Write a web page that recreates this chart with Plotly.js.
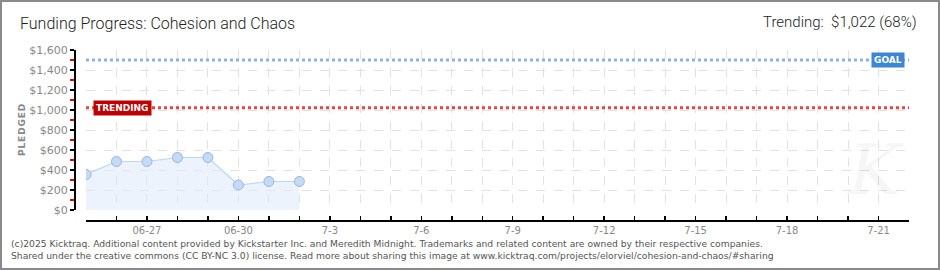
<!DOCTYPE html>
<html>
<head>
<meta charset="utf-8">
<script src="https://cdn.plot.ly/plotly-3.0.1.min.js"></script>
<style>
  body { margin: 0; padding: 0; background: #fff; }
  #wrap { position: relative; width: 940px; height: 270px; }
  #chart { width: 940px; height: 270px; }
  #frame { position: absolute; left: 0; top: 0; width: 936px; height: 266px; border: 2px solid #8a8a8a; pointer-events: none; }
</style>
</head>
<body>
<div id="wrap"><div id="chart"></div><div id="frame"></div></div>
<script>
// ---- data ----
const dates = ["2025-06-25","2025-06-26","2025-06-27","2025-06-28","2025-06-29","2025-06-30","2025-07-01","2025-07-02"];
const pledged = [355, 485, 485, 525, 525, 250, 285, 285];
const goal = 1500;
const trending = 1022;
const trendingPct = 68;
const axisStart = "2025-06-25";
const axisEnd = "2025-07-22";
const dayTicks = ["2025-06-25","2025-06-26","2025-06-27","2025-06-28","2025-06-29","2025-06-30","2025-07-01","2025-07-02","2025-07-03","2025-07-04","2025-07-05","2025-07-06","2025-07-07","2025-07-08","2025-07-09","2025-07-10","2025-07-11","2025-07-12","2025-07-13","2025-07-14","2025-07-15","2025-07-16","2025-07-17","2025-07-18","2025-07-19","2025-07-20","2025-07-21","2025-07-22"];
const dayLabels = ["","","06-27","","","06-30","","","7-3","","","7-6","","","7-9","","","7-12","","","7-15","","","7-18","","","7-21",""];
const yTickVals = [0,200,400,600,800,1000,1200,1400,1600];
const yTickText = ["$0","$200","$400","$600","$800","$1,000","$1,200","$1,400","$1,600"];

const titleText = "Funding Progress: Cohesion and Chaos";
const trendText = "Trending:  $" + trending.toLocaleString("en-US") + " (" + trendingPct + "%)";
const footer1 = "(c)2025 Kicktraq. Additional content provided by Kickstarter Inc. and Meredith Midnight. Trademarks and related content are owned by their respective companies.";
const footer2 = "Shared under the creative commons (CC BY-NC 3.0) license. Read more about sharing this image at www.kicktraq.com/projects/elorviel/cohesion-and-chaos/#sharing";

// plot area geometry helpers (paper coords)
const L = 75, R = 909, T = 50, B = 221;
const px = x => (x - L) / (R - L);
const py = y => (B - y) / (B - T);

const trace = {
  x: dates, y: pledged, type: "scatter", mode: "lines+markers",
  fill: "tozeroy", fillcolor: "rgba(220,234,250,0.55)",
  line: { color: "#bcd5f1", width: 1.2 },
  marker: { size: 10, color: "#c3dbf7", line: { color: "#98b6da", width: 1 } },
  hoverinfo: "skip", showlegend: false
};

const layout = {
  width: 940, height: 270,
  margin: { l: L, r: 940 - R, t: T, b: 270 - B, pad: 0 },
  paper_bgcolor: "#fff", plot_bgcolor: "#fff",
  font: { family: "DejaVu Sans", color: "#888" },
  showlegend: false,
  xaxis: {
    type: "date", range: [axisStart, axisEnd], domain: [px(86), 1],
    anchor: "free", position: 0,
    tickmode: "array", tickvals: dayTicks, ticktext: dayLabels,
    ticks: "inside", ticklen: 4, tickcolor: "#000", tickwidth: 1.5,
    showline: true, linecolor: "#000", linewidth: 2,
    showgrid: true, gridcolor: "#e2e2e2", griddash: "dash", gridwidth: 1,
    zeroline: false,
    tickfont: { family: "DejaVu Sans", size: 10, color: "#888" }
  },
  yaxis: {
    range: [0, 1600], domain: [py(210), 1],
    anchor: "free", position: 0,
    tickmode: "array", tickvals: yTickVals, ticktext: yTickText,
    ticks: "outside", ticklen: 4, tickcolor: "#000", tickwidth: 1.5,
    minor: { dtick: 200, tick0: 100, ticks: "outside", ticklen: 4, tickcolor: "#e00000", tickwidth: 1.5, showgrid: false },
    showline: true, linecolor: "#000", linewidth: 2,
    showgrid: true, gridcolor: "#e2e2e2", griddash: "dash", gridwidth: 1,
    zeroline: false,
    tickfont: { family: "DejaVu Sans", size: 11, color: "#888" }
  },
  title: {
    text: titleText, x: 20 / 940, xanchor: "left", xref: "container",
    y: 1 - 23 / 270, yanchor: "middle", yref: "container",
    font: { family: "Roboto", size: 16, weight: 300, color: "#222" }
  },
  shapes: [
    { type: "line", xref: "x domain", yref: "y", x0: 0, x1: 1, y0: goal, y1: goal,
      line: { color: "#8fb2de", width: 3, dash: "dot" } },
    { type: "line", xref: "x domain", yref: "y", x0: 0, x1: 1, y0: trending, y1: trending,
      line: { color: "#e04848", width: 3, dash: "dot" } }
  ],
  annotations: [
    { text: "K", xref: "paper", yref: "paper", x: px(875), y: py(170), xanchor: "center", yanchor: "middle",
      showarrow: false, font: { family: "DejaVu Serif", size: 70, style: "italic", color: "rgba(0,0,0,0.035)" } },
    { text: trendText, xref: "paper", yref: "paper", x: px(919), y: py(22), xanchor: "right", yanchor: "middle",
      showarrow: false, font: { family: "Roboto", size: 15, weight: 300, color: "#222" } },
    { text: "GOAL", xref: "x domain", yref: "y", x: 0.9955, y: goal, xanchor: "right", yanchor: "middle",
      showarrow: false, bgcolor: "#3d86d6", borderpad: 2,
      font: { family: "DejaVu Sans", size: 9, weight: "bold", color: "#fff" } },
    { text: "TRENDING", xref: "x domain", yref: "y", x: 0.0085, y: trending, xanchor: "left", yanchor: "middle",
      showarrow: false, bgcolor: "#c00000", borderpad: 2,
      font: { family: "DejaVu Sans", size: 9, weight: "bold", color: "#fff" } },
    { text: "P\u200aL\u200aE\u200aD\u200aG\u200aE\u200aD", xref: "paper", yref: "paper", x: px(22), y: py(130), xanchor: "center", yanchor: "middle",
      textangle: -90, showarrow: false, font: { family: "DejaVu Sans", size: 9, weight: "bold", color: "#888" } },
    { text: footer1 + "<br>" + footer2, xref: "paper", yref: "paper", x: px(9), y: py(236), xanchor: "left", yanchor: "top",
      align: "left", showarrow: false, font: { family: "DejaVu Sans", size: 9.2, color: "#555" } }
  ]
};

Plotly.newPlot("chart", [trace], layout, { staticPlot: true, displayModeBar: false });
</script>
</body>
</html>
